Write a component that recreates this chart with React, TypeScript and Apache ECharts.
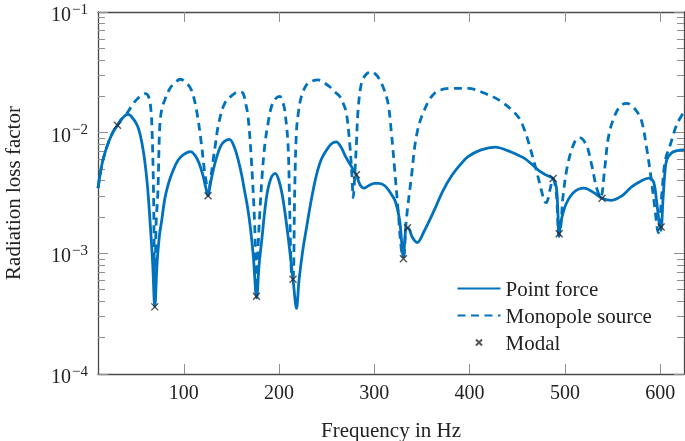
import React, { useEffect, useRef } from "react";
import * as echarts from "echarts";

// Frequency (Hz) / radiation loss factor, Point force
const pointForce: [number, number][] = [
  [10, 3.47e-3], [14, 5.4e-3], [18, 7.1e-3], [22, 8.7e-3], [26, 1.02e-2], [30.4, 1.15e-2],
  [35, 1.3e-2], [39, 1.4e-2], [42, 1.42e-2], [46, 1.33e-2], [50, 1.2e-2], [53, 1.05e-2],
  [56, 8.3e-3], [59, 5.9e-3], [62, 3.55e-3], [65, 1.66e-3], [67.5, 7.9e-4], [69.6, 3.6e-4],
  [72, 8.3e-4], [74.5, 1.41e-3], [77, 1.9e-3], [80, 2.8e-3], [84, 3.8e-3], [89, 4.9e-3],
  [94, 5.9e-3], [100, 6.6e-3], [107, 6.97e-3], [112, 6.45e-3], [116, 5.6e-3], [120, 4.47e-3],
  [123, 3.55e-3], [125.5, 3.0e-3], [128, 3.8e-3], [131, 4.9e-3], [135, 6.45e-3], [139, 7.8e-3],
  [143, 8.5e-3], [148, 8.8e-3], [153, 7.6e-3], [157, 6.0e-3], [161, 4.37e-3], [164, 3.24e-3],
  [167, 2.4e-3], [170, 1.62e-3], [173, 9.5e-4], [176.5, 4.27e-4], [179, 7.9e-4], [182, 1.32e-3],
  [185, 2.24e-3], [188, 3.3e-3], [192, 4.27e-3], [196, 4.6e-3], [200, 3.98e-3], [203, 3.16e-3],
  [206, 2.24e-3], [209, 1.48e-3], [212, 9.3e-4], [215, 5.75e-4], [218.3, 3.5e-4], [221, 6.0e-4],
  [225, 1.07e-3], [229, 1.66e-3], [234, 2.82e-3], [239, 4.37e-3], [244, 5.9e-3], [250, 7.2e-3],
  [255, 8.1e-3], [260, 8.4e-3], [265, 7.6e-3], [270, 6.3e-3], [275, 5.4e-3], [281, 4.47e-3],
  [285, 3.7e-3], [289, 3.47e-3], [294, 3.63e-3], [300, 3.8e-3], [305, 3.8e-3], [311, 3.63e-3],
  [317, 3.16e-3], [322, 2.7e-3], [326.5, 1.9e-3], [330.5, 9.3e-4], [333, 1.58e-3], [335.5, 1.62e-3],
  [340, 1.35e-3], [345, 1.23e-3], [352, 1.51e-3], [363, 2.29e-3], [372, 3.3e-3], [381, 4.37e-3],
  [390, 5.4e-3], [398, 6.3e-3], [412, 7.2e-3], [427, 7.6e-3], [440, 7.1e-3], [451, 6.5e-3],
  [458, 6.1e-3], [465, 5.5e-3], [472, 4.9e-3], [480, 4.47e-3], [487.5, 4.17e-3], [491, 3.55e-3],
  [492.7, 2.14e-3], [493.8, 1.41e-3], [496.3, 1.9e-3], [501.6, 2.6e-3], [510, 3.24e-3], [520, 3.47e-3],
  [531, 3.16e-3], [539, 2.86e-3], [549, 2.75e-3], [560, 3.0e-3], [570, 3.55e-3], [580, 3.98e-3],
  [588, 4.2e-3], [593, 3.9e-3], [596, 2.8e-3], [599, 1.78e-3], [600.7, 1.55e-3], [603, 2.82e-3],
  [605, 4.7e-3], [607, 6.0e-3], [612, 6.8e-3], [618, 7.1e-3], [625, 7.2e-3],
];

// Monopole source
const monopole: [number, number][] = [
  [10, 3.47e-3], [14, 5.4e-3], [18, 7.1e-3], [22, 8.7e-3], [26, 1.02e-2], [30.4, 1.15e-2],
  [35, 1.3e-2], [39, 1.4e-2], [42, 1.51e-2], [46, 1.7e-2], [50, 1.86e-2], [55, 2.02e-2],
  [60, 2.11e-2], [63, 2.0e-2], [65, 1.7e-2], [66.6, 1.12e-2], [68.3, 3.16e-3], [69.6, 4.7e-4],
  [71, 1.78e-3], [72.8, 3.16e-3], [74.8, 1.12e-2], [77, 1.58e-2], [80, 1.86e-2], [85, 2.29e-2],
  [90, 2.57e-2], [96.7, 2.77e-2], [103, 2.57e-2], [108, 2.26e-2], [113.3, 1.55e-2], [118.5, 8.1e-3],
  [121.5, 5.0e-3], [123.8, 3.8e-3], [125.5, 3.0e-3], [128, 3.98e-3], [130.8, 5.9e-3], [133.5, 8.3e-3],
  [136, 1.12e-2], [143, 1.75e-2], [153.5, 2.12e-2], [158, 2.19e-2], [162.2, 2.12e-2], [165, 1.74e-2],
  [167.5, 1.36e-2], [171, 5.9e-3], [174.5, 1.66e-3], [176.3, 5.0e-4], [178, 1.12e-3], [180, 2.29e-3],
  [182.5, 4.7e-3], [185.2, 8.1e-3], [188.5, 1.2e-2], [192, 1.64e-2], [196, 1.9e-2], [200.7, 2.0e-2],
  [204, 1.78e-2], [205.9, 1.55e-2], [209.4, 8.1e-3], [211.2, 2.29e-3], [213, 6.8e-4], [214.7, 6.2e-4],
  [216.4, 3.16e-3], [218.2, 1.0e-2], [220.5, 1.51e-2], [223.5, 2.0e-2], [228.7, 2.48e-2], [234, 2.66e-2],
  [240.8, 2.74e-2], [247, 2.6e-2], [253.2, 2.4e-2], [258, 2.19e-2], [263.7, 2.0e-2], [267.5, 1.74e-2],
  [270.7, 1.45e-2], [274.2, 8.1e-3], [276.5, 4.47e-3], [277.8, 2.9e-3], [279.5, 4.47e-3], [281.2, 8.1e-3],
  [283, 1.55e-2], [286.5, 2.57e-2], [291, 3.02e-2], [296.6, 3.2e-2], [303, 2.95e-2], [309.1, 2.4e-2],
  [314.4, 1.75e-2], [317.9, 1.0e-2], [321.4, 4.9e-3], [324.9, 2.29e-3], [328.4, 1.07e-3], [330.5, 9.3e-4],
  [333.6, 1.9e-3], [338.9, 4.3e-3], [344.1, 9.3e-3], [351.1, 1.45e-2], [363.3, 2.12e-2], [380.8, 2.33e-2],
  [398.3, 2.33e-2], [415.8, 2.12e-2], [433.3, 1.81e-2], [450.8, 1.36e-2], [457.7, 1.05e-2], [463, 7.7e-3],
  [470, 4.9e-3], [475.2, 3.35e-3], [478.7, 2.69e-3], [480.5, 2.63e-3], [484.3, 3.35e-3], [487.5, 4.17e-3],
  [491, 3.16e-3], [493.8, 1.38e-3], [496, 1.78e-3], [498, 2.95e-3], [503.3, 5.6e-3], [510.3, 8.4e-3],
  [515.5, 9.1e-3], [522.5, 7.9e-3], [527.7, 5.6e-3], [533, 3.55e-3], [537.5, 2.9e-3], [541.6, 4.9e-3],
  [545.2, 8.7e-3], [549.4, 1.2e-2], [557.4, 1.64e-2], [565, 1.75e-2], [573.2, 1.58e-2], [580.2, 1.27e-2],
  [585.5, 7.7e-3], [590.7, 4.07e-3], [594.2, 2.45e-3], [598, 1.48e-3], [601.8, 3.16e-3], [605.3, 5.9e-3],
  [610.5, 7.9e-3], [617.5, 1.17e-2], [625, 1.49e-2],
];

// Modal results
const modal: [number, number][] = [
  [30.4, 1.15e-2], [69.6, 3.6e-4], [125.5, 3.0e-3], [176.3, 4.4e-4], [214.7, 6.1e-4],
  [281.2, 4.47e-3], [330.5, 9.0e-4], [334.8, 1.63e-3], [487.7, 4.17e-3], [494, 1.45e-3],
  [539, 2.86e-3], [601, 1.65e-3],
];

const xTicks = [100, 200, 300, 400, 500, 600];
const yMinorExp: number[] = [];
for (let e = -4; e < -1; e++) {
  for (let m = 2; m <= 9; m++) yMinorExp.push(e + Math.log10(m));
}

const FONT = "'Liberation Serif', 'DejaVu Serif', serif";
const BLUE = "#0072BD";
const AXIS = "#4a4a4a";
const TICK = "#8f8f8f";

export default function App() {
  const ref = useRef<HTMLDivElement>(null);
  useEffect(() => {
    if (!ref.current) return;
    const chart = echarts.init(ref.current, undefined, { renderer: "svg" });
    const majorLog = (pos: "left" | "right", labels: boolean) => ({
      type: "log",
      logBase: 10,
      min: 1e-4,
      max: 1e-1,
      position: pos,
      axisLine: { show: true, lineStyle: { color: AXIS, width: 1.3 } },
      axisTick: { show: true, inside: true, length: 10, lineStyle: { color: TICK, width: 1 } },
      axisLabel: labels
        ? {
            show: true,
            margin: 10,
            formatter: (v: number) => {
              const e = Math.round(Math.log10(v));
              return `{b|10}{s|\u2212${-e}}`;
            },
            rich: {
              b: { fontSize: 20, fontFamily: FONT, color: "#222", lineHeight: 22, padding: [4, 1, 0, 0] },
              s: { fontSize: 15, fontFamily: FONT, color: "#222", verticalAlign: "top", lineHeight: 15 },
            },
          }
        : { show: false },
      splitLine: { show: false },
    });
    const minorVal = (pos: "left" | "right") => ({
      type: "value",
      min: -4,
      max: -1,
      position: pos,
      axisLine: { show: false },
      axisTick: { show: true, inside: true, length: 7, customValues: yMinorExp, lineStyle: { color: TICK, width: 1 } },
      axisLabel: { show: false },
      splitLine: { show: false },
    });
    chart.setOption({
      animation: false,
      grid: { left: 98, right: 1, top: 12, bottom: 67, containLabel: false, outerBoundsMode: "none" },
      xAxis: [
        {
          type: "value",
          min: 10,
          max: 625,
          position: "bottom",
          name: "Frequency in Hz",
          nameLocation: "middle",
          nameGap: 45,
          nameTextStyle: { fontFamily: FONT, fontSize: 21, color: "#222" },
          axisLine: { show: true, lineStyle: { color: AXIS, width: 1.3 } },
          axisTick: { show: true, inside: true, length: 10, customValues: xTicks, lineStyle: { color: TICK, width: 1 } },
          axisLabel: { show: true, customValues: xTicks, margin: 8, fontFamily: FONT, fontSize: 20, color: "#222" },
          splitLine: { show: false },
        },
        {
          type: "value",
          min: 10,
          max: 625,
          position: "top",
          axisLine: { show: true, lineStyle: { color: AXIS, width: 1.3 } },
          axisTick: { show: true, inside: true, length: 10, customValues: xTicks, lineStyle: { color: TICK, width: 1 } },
          axisLabel: { show: false },
          splitLine: { show: false },
        },
      ],
      yAxis: [
        {
          ...majorLog("left", true),
          name: "Radiation loss factor",
          nameLocation: "middle",
          nameGap: 75,
          nameTextStyle: { fontFamily: FONT, fontSize: 21, color: "#222" },
        },
        minorVal("left"),
        majorLog("right", false),
        minorVal("right"),
      ],
      legend: {
        orient: "vertical",
        left: 455,
        top: 278,
        padding: 0,
        itemWidth: 43,
        itemHeight: 14,
        itemGap: 6,
        textStyle: { fontFamily: FONT, fontSize: 21, color: "#222" },
        data: [
          { name: "Point force", itemStyle: { opacity: 0 } },
          { name: "Monopole source", itemStyle: { opacity: 0 } },
          { name: "Modal", icon: "path://M0,0M43,14M18.5,4L24.5,10M24.5,4L18.5,10" },
        ],
      },
      series: [
        {
          name: "Monopole source",
          type: "line",
          data: monopole,
          symbol: "none",
          smooth: 0.35,
          lineStyle: { color: BLUE, width: 2.8, type: [8, 5.5] },
          itemStyle: { color: BLUE },
          z: 2,
        },
        {
          name: "Point force",
          type: "line",
          data: pointForce,
          symbol: "none",
          smooth: 0.35,
          lineStyle: { color: BLUE, width: 2.8 },
          itemStyle: { color: BLUE },
          z: 3,
        },
        {
          name: "Modal",
          type: "scatter",
          data: modal,
          symbol: "path://M0,0L10,10M10,0L0,10",
          symbolSize: 7,
          itemStyle: { color: "none", borderColor: "#2a2a2a", borderWidth: 1.4 },
          z: 5,
        },
      ],
    });
    return () => chart.dispose();
  }, []);
  return <div ref={ref} style={{ position: "fixed", left: 0, top: 0, width: 685, height: 441 }} />;
}
